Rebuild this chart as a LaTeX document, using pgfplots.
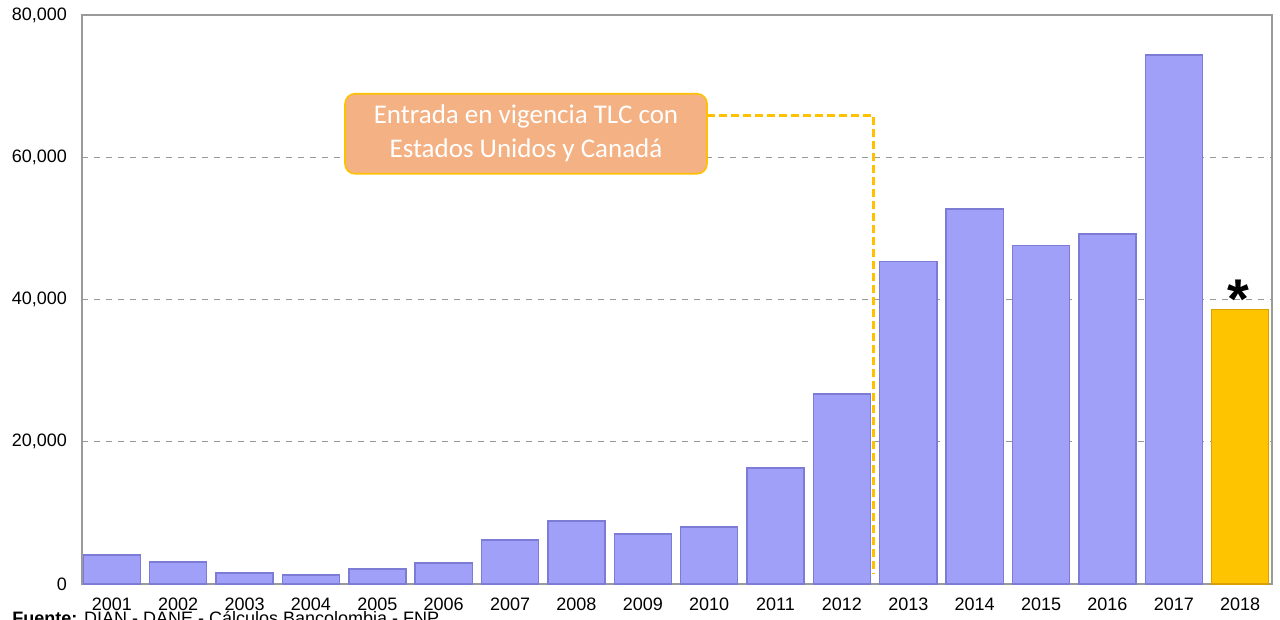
\documentclass[border=0pt]{standalone}
\usepackage{pgfplots}
\pgfplotsset{compat=1.18}
\usepackage{fontspec}
\setmainfont{Liberation Sans}
\newfontfamily\calibri{Carlito}
\definecolor{barblue}{HTML}{A0A0F8}
\definecolor{baredge}{HTML}{7C7CD6}
\definecolor{bargold}{HTML}{FFC400}
\definecolor{goldedge}{HTML}{D9A000}
\definecolor{callfill}{HTML}{F4B183}
\definecolor{calledge}{HTML}{FFC000}
\definecolor{framegray}{HTML}{9A9A9A}
\begin{document}
\begin{tikzpicture}
\begin{axis}[
  scale only axis,
  width=595pt, height=284.5pt,
  ymin=0, ymax=80000,
  xmin=-0.45, xmax=17.48,
  ybar, bar width=0.86, bar shift=0pt,
  xtick={0,...,17},
  xticklabels={2001,2002,2003,2004,2005,2006,2007,2008,2009,2010,2011,2012,2013,2014,2015,2016,2017,2018},
  ytick={0,20000,40000,60000,80000},
  scaled y ticks=false,
  /pgf/number format/.cd, 1000 sep={,}, assume math mode=true, /pgfplots/.cd,
  tick label style={font=\fontsize{9}{10}\selectfont, black},
  major tick length=0pt,
  yticklabel style={xshift=-4pt},
  xticklabel style={yshift=-3.5pt},
  axis line style={framegray, line width=0.9pt},
  ymajorgrids, major grid style={gray!80, dashed, line width=0.5pt},
  clip=false,
]
\addplot[fill=barblue, draw=baredge, line width=0.7pt] coordinates {
  (0,4100) (1,3100) (2,1550) (3,1250) (4,2100) (5,2950) (6,6200) (7,8850)
  (8,7050) (9,8000) (10,16300) (11,26700) (12,45300) (13,52700) (14,47600)
  (15,49200) (16,74400)};
\addplot[fill=bargold, draw=goldedge, line width=0.7pt] coordinates {(17,38600)};
% linea punteada del recuadro
\draw[calledge, line width=1.5pt, dash pattern=on 4pt off 2pt]
  (axis cs:8.97,65800) -- (axis cs:11.48,65800) -- (axis cs:11.48,1400);
\node[draw=calledge, fill=callfill, rounded corners=5pt, line width=0.8pt,
  minimum width=181pt, minimum height=40pt, text=white, align=center,
  font=\calibri\fontsize{13.5}{17}\selectfont]
  at (axis cs:6.24,63300) {Entrada en vigencia TLC con\\Estados Unidos y Canadá};
\node[anchor=base, inner sep=0pt, font=\fontsize{28}{28}\selectfont\bfseries]
  at (axis cs:16.97,37300) {*};
\node[anchor=base west, font=\fontsize{9}{10}\selectfont, inner sep=0pt]
  at ([xshift=-35pt,yshift=-20.5pt]current axis.south west |- {axis cs:0,0})
  {\textbf{Fuente:} DIAN - DANE - Cálculos Bancolombia - FNP};
\end{axis}
\pgfresetboundingbox
\useasboundingbox (-41pt,-18pt) rectangle (599pt,292pt);
\end{tikzpicture}
\end{document}
